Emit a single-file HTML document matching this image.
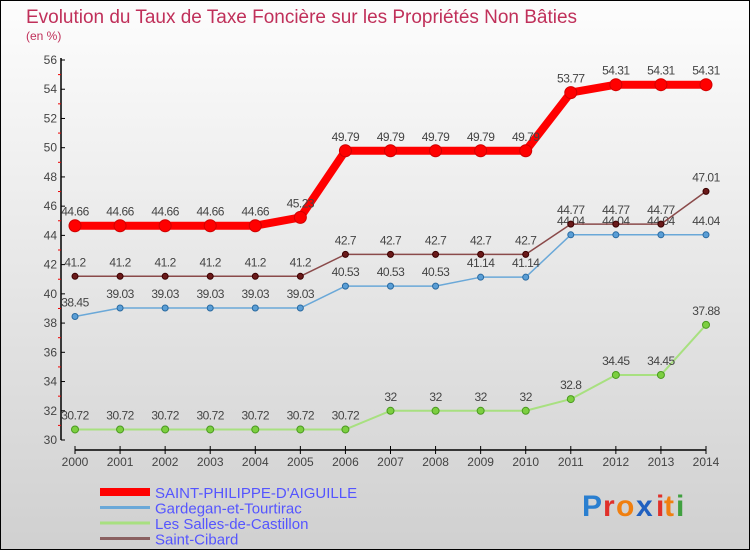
<!DOCTYPE html>
<html><head><meta charset="utf-8"><style>
body{margin:0;width:750px;height:550px;overflow:hidden;font-family:"Liberation Sans",sans-serif}
svg text{font-family:"Liberation Sans",sans-serif}
</style></head><body>
<svg id="chart" width="750" height="550" xmlns="http://www.w3.org/2000/svg">
<defs><linearGradient id="bg" x1="0" y1="0" x2="0" y2="1"><stop offset="0" stop-color="#fdfdfd"/><stop offset="1" stop-color="#d0d0d0"/></linearGradient></defs>
<rect x="0.5" y="0.5" width="749" height="549" fill="url(#bg)" stroke="#000" stroke-width="1"/>
<text x="26" y="23" font-size="19" fill="#c0305a" textLength="551">Evolution du Taux de Taxe Foncière sur les Propriétés Non Bâties</text>
<text x="26" y="40" font-size="12" fill="#c0305a">(en %)</text>
<g id="axes"></g><g id="series"></g><g id="legend"></g>
<g font-size="30" font-weight="bold">
<text x="582" y="516" fill="#2a7fd0">P</text><text x="603" y="516" fill="#e0302a">r</text><text x="616" y="516" fill="#f07f10">o</text><text x="636" y="516" fill="#2060c0">x</text><text x="656" y="516" fill="#e0302a">i</text><text x="664" y="516" fill="#f07f10">t</text><text x="676" y="516" fill="#40a040">i</text>
</g>
</svg>
<script>
const years=[2000,2001,2002,2003,2004,2005,2006,2007,2008,2009,2010,2011,2012,2013,2014];
const yTicks=[30,32,34,36,38,40,42,44,46,48,50,52,54,56];
const stPhilippe=[44.66,44.66,44.66,44.66,44.66,45.23,49.79,49.79,49.79,49.79,49.79,53.77,54.31,54.31,54.31];
const gardegan=[38.45,39.03,39.03,39.03,39.03,39.03,40.53,40.53,40.53,41.14,41.14,44.04,44.04,44.04,44.04];
const salles=[30.72,30.72,30.72,30.72,30.72,30.72,30.72,32,32,32,32,32.8,34.45,34.45,37.88];
const stCibard=[41.2,41.2,41.2,41.2,41.2,41.2,42.7,42.7,42.7,42.7,42.7,44.77,44.77,44.77,47.01];
const seriesNames=["SAINT-PHILIPPE-D'AIGUILLE","Gardegan-et-Tourtirac","Les Salles-de-Castillon","Saint-Cibard"];
const NS="http://www.w3.org/2000/svg";
const x=i=>75+i*(706-75)/14;
const y=v=>440-(v-30)*(380/26);
function mk(tag,attrs,parent,txt){const e=document.createElementNS(NS,tag);for(const k in attrs)e.setAttribute(k,attrs[k]);if(txt!==undefined)e.textContent=txt;parent.appendChild(e);return e;}
const axes=document.getElementById('axes');
let a=mk('line',{x1:61,y1:58,x2:61,y2:440,stroke:'#000','stroke-width':1.5},axes);


a=mk('line',{x1:75,y1:450,x2:706,y2:450,stroke:'#000','stroke-width':1.5},axes);


yTicks.forEach(t=>{
 mk('line',{x1:61,y1:y(t),x2:65,y2:y(t),stroke:'#000'},axes);
 if(t<56)mk('line',{x1:58,y1:y(t+1),x2:61,y2:y(t+1),stroke:'#e00'},axes);
 const l=mk('text',{x:57,y:y(t)+4,'text-anchor':'end','font-size':12,fill:'#444'},axes,t);
 
 
});
years.forEach((yr,i)=>{
 mk('line',{x1:x(i),y1:446,x2:x(i),y2:454,stroke:'#000'},axes);
 const l=mk('text',{x:x(i),y:466,'text-anchor':'middle','font-size':12,fill:'#444'},axes,yr);
 
 
});
const sg=document.getElementById('series');
function draw(vals,color,w,r,fill,stroke,name){
 const g=mk('g',{},sg);
 
 
 mk('polyline',{points:vals.map((v,i)=>x(i)+','+y(v)).join(' '),fill:'none',stroke:color,'stroke-width':w,'stroke-linejoin':'round'},g);
 vals.forEach((v,i)=>{
  const c=mk('circle',{cx:x(i),cy:y(v),r:r,fill:fill,stroke:stroke,'stroke-width':1},g);
  
  
  const t=mk('text',{x:x(i),y:y(v)-10,'text-anchor':'middle','font-size':12,fill:'#444','letter-spacing':'-0.5'},g,String(v));
  
  
 });
}
draw(salles,'#a8e080',2,3.5,'#7ccf40','#4a9a20','series-les-salles');
draw(gardegan,'#6aa8d8',1.5,3,'#5a9ed6','#2a6aa0','series-gardegan');
draw(stCibard,'#8a4a4a',1.5,3,'#6a1a1a','#3a0000','series-saint-cibard');
draw(stPhilippe,'#ff0000',8,6,'#ff0000','#d00000','series-saint-philippe');
const lg=document.getElementById('legend');
const lc=[['#ff0000',8],['#6aa8d8',3],['#a8e080',3],['#8a6060',3]];
seriesNames.forEach((n,i)=>{
 const g=mk('g',{},lg);
 
 
 const yy=492+i*15.5;
 mk('line',{x1:100,y1:yy,x2:150,y2:yy,stroke:lc[i][0],'stroke-width':lc[i][1]},g);
 mk('text',{x:155,y:yy+6,'font-size':15,fill:'#5555ff'},g,n);
});
</script>
</body></html>
